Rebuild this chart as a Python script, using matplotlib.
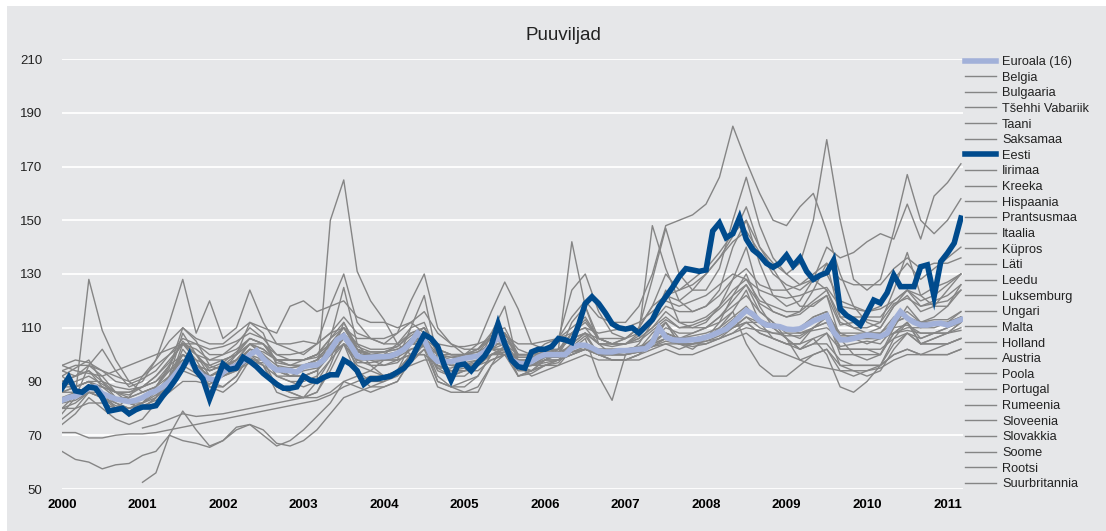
import numpy as np
import matplotlib
matplotlib.use("Agg")
import matplotlib.pyplot as plt
from matplotlib.patches import Rectangle

plt.rcParams["font.family"] = ["Liberation Sans", "DejaVu Sans"]

# monthly index values, Jan 2000 .. Mar 2011
eesti = [
    87.5, 91.5, 86.5, 86, 88, 87.5, 84, 79, 79.5, 80, 78, 79.5,
    80.5, 80.5, 81, 84.5, 87.5, 91, 95, 100, 94, 91, 83.5, 90,
    96.5, 94.5, 95, 99, 97.5, 95.5, 93, 91, 89, 87.5, 87.5, 88,
    92, 90.5, 90, 91.5, 92.5, 92.5, 98, 96.5, 94, 89, 91, 91,
    91.5, 92, 93.5, 95, 98, 103, 107.5, 106, 103, 96, 90.5, 96,
    96.5, 94, 97, 99.5, 103.5, 111.5, 104, 98, 95.5, 95, 101, 102,
    102, 103, 106, 105.5, 104.5, 111, 119, 121.5, 119, 115.5, 111.5, 110,
    109.5, 110, 108, 110.5, 113, 118, 121.5, 125, 129, 132, 131.5, 131,
    131.5, 146, 149, 143.5, 145, 151, 143, 139, 137, 134, 132.5, 134,
    137, 133, 136, 131, 128, 129.5, 130.5, 135, 117, 114.5, 113, 111,
    115.5, 120.3, 119.2, 123, 129.6, 125.3, 125.3, 125.3, 132.7, 133.4, 121.6, 134.6,
    137.8, 141.5, 150.8,
]
euroala = [
    83, 84, 84.5, 86, 87.5, 88, 85.5, 84.5, 83.5, 83, 82.5, 83,
    84, 85.5, 86.5, 88, 90, 93, 96, 98, 94.5, 92, 91, 90.5,
    93.5, 95, 96, 97.5, 100, 101.5, 98.5, 96, 94.3, 94.3, 94, 93.5,
    95.5, 96, 96.2, 98, 101.5, 105.5, 107, 103.5, 99.5, 98.8, 99, 99.2,
    99.2, 99.5, 100.5, 102, 104.5, 108, 105.5, 100, 97.5, 97.4, 97.4, 98,
    98.6, 99, 99.5, 101, 103.5, 106.5, 104, 98, 96.8, 96.5, 97.5, 99,
    100, 100, 100, 100, 102.5, 103.5, 103.5, 102.5, 101.2, 101, 101, 101.5,
    101.5, 101.7, 102, 102.2, 104.5, 110, 106.5, 105.5, 105.3, 105.3, 105.5, 105.8,
    106.5, 107.3, 108.5, 109.5, 111.7, 114, 116.5, 115, 112.5, 111, 110.7, 110.4,
    109.5, 109.3, 109.6, 111, 112.5, 113.5, 114.5, 108.5, 105.5, 105.5, 106, 106.7,
    107.3, 107, 106.7, 108, 112.5, 116, 113.6, 112, 111, 111, 111.5, 111.7,
    111, 112, 113,
]

# other countries, every second month (Jan, Mar, May, ...), Jan 2000 .. Mar 2011
belgia = [88, 90, 92, 89, 86, 85, 88, 92, 97, 104, 100, 95, 97, 101, 106, 104, 97, 96,
          98, 100, 106, 112, 103, 101, 101, 103, 107, 110, 100, 99, 100, 102, 107, 108, 99, 99,
          101, 102, 106, 108, 104, 103, 104, 105, 109, 113, 110, 111, 113, 117, 122, 126, 119, 116,
          114, 115, 119, 122, 111, 112, 113, 112, 119, 121, 118, 119, 120, 124]
bulgaaria = [64, 61, 60, 57.5, 59, 59.5, 62.5, 64, 70, 68, 67, 65.5, 68, 73, 74, 72, 67, 66,
             68, 72, 78, 84, 86, 88, 90, 92, 97, 102, 95, 92, 94, 96, 104, 108, 98, 96,
             99, 101, 108, 113, 106, 104, 104, 107, 112, 122, 124, 128, 132, 138, 145, 150, 140, 134,
             130, 126, 128, 124, 112, 110, 108, 110, 118, 122, 116, 118, 124, 130]
tsehhi = [92, 95, 98, 90, 84, 82, 80, 84, 92, 108, 100, 92, 95, 98, 104, 100, 92, 90,
          88, 90, 98, 112, 102, 96, 92, 94, 100, 104, 90, 88, 88, 92, 100, 103, 92, 93,
          96, 97, 103, 107, 100, 98, 98, 100, 104, 112, 104, 104, 106, 110, 116, 124, 112, 106,
          104, 104, 110, 114, 100, 100, 100, 100, 108, 112, 104, 106, 108, 112]
taani = [96, 94, 93, 92, 94, 96, 98, 100, 102, 104, 104, 102, 103, 105, 108, 106, 104, 104,
         105, 104, 108, 110, 106, 106, 106, 108, 112, 108, 104, 103, 103, 104, 106, 107, 104, 104,
         105, 106, 108, 110, 108, 109, 110, 112, 116, 120, 118, 120, 122, 126, 130, 128, 124, 122,
         121, 122, 124, 125, 118, 117, 116, 117, 120, 124, 122, 125, 127, 130]
saksamaa = [82, 83, 86, 84, 81, 80, 82, 85, 89, 96, 93, 89, 92, 95, 99, 96, 92, 92,
            94, 95, 100, 106, 97, 97, 98, 99, 102, 103, 95, 95, 97, 98, 102, 102, 95, 96,
            99, 99, 101, 102, 100, 100, 100, 101, 103, 105, 104, 104, 105, 107, 110, 114, 110, 108,
            107, 107, 110, 112, 103, 104, 105, 104, 110, 111, 108, 108, 108, 110]
iirimaa = [90, 92, 96, 94, 90, 89, 91, 94, 100, 104, 100, 98, 100, 104, 110, 106, 100, 100,
           101, 104, 108, 114, 108, 106, 104, 104, 108, 110, 102, 100, 100, 100, 104, 106, 100, 100,
           100, 100, 103, 104, 101, 100, 101, 102, 104, 106, 104, 104, 104, 106, 110, 112, 108, 106,
           104, 102, 104, 104, 98, 96, 96, 96, 100, 102, 100, 100, 100, 102]
kreeka = [80, 85, 128, 109, 98, 90, 86, 88, 95, 110, 105, 96, 94, 100, 112, 108, 96, 92,
          92, 94, 106, 125, 104, 98, 96, 98, 110, 122, 98, 92, 92, 96, 108, 118, 96, 94,
          98, 100, 112, 118, 104, 100, 100, 104, 112, 124, 112, 110, 112, 118, 128, 140, 122, 116,
          114, 116, 124, 134, 114, 110, 110, 112, 124, 138, 122, 118, 118, 124]
hispaania = [86, 88, 90, 86, 82, 80, 82, 88, 96, 105, 100, 94, 96, 100, 106, 104, 98, 96,
             96, 98, 104, 110, 102, 100, 100, 104, 110, 112, 100, 98, 100, 102, 108, 110, 100, 100,
             104, 106, 110, 114, 106, 104, 104, 106, 110, 114, 110, 110, 110, 114, 118, 122, 116, 112,
             108, 106, 110, 114, 102, 102, 102, 100, 108, 112, 104, 104, 104, 106]
prantsusmaa = [84, 86, 88, 86, 84, 84, 86, 88, 92, 98, 96, 92, 94, 97, 102, 100, 96, 95,
               96, 98, 104, 108, 100, 100, 100, 101, 106, 106, 98, 98, 99, 100, 104, 104, 98, 98,
               100, 100, 103, 104, 101, 101, 101, 102, 105, 108, 106, 106, 107, 109, 113, 117, 113, 111,
               110, 110, 114, 116, 107, 107, 108, 108, 114, 116, 112, 113, 113, 116]
itaalia = [80, 80, 82, 82, 80, 80, 81, 83, 86, 90, 90, 89, 92, 94, 97, 97, 95, 95,
           96, 97, 100, 104, 101, 100, 101, 102, 104, 104, 100, 99, 99, 100, 102, 102, 99, 99,
           100, 100, 101, 102, 101, 101, 101, 102, 103, 104, 104, 104, 105, 106, 108, 110, 109, 108,
           108, 108, 109, 110, 106, 106, 106, 106, 108, 109, 108, 108, 108, 109]
kupros = [78, 84, 96, 102, 94, 88, 90, 98, 112, 128, 108, 120, 106, 110, 124, 112, 104, 102,
          100, 104, 118, 130, 112, 106, 104, 108, 120, 130, 110, 104, 100, 104, 116, 127, 117, 104,
          102, 106, 124, 130, 116, 108, 106, 110, 128, 147, 130, 124, 124, 132, 150, 166, 148, 136,
          130, 134, 150, 180, 150, 128, 124, 128, 146, 167, 150, 145, 150, 158]
lati = [92, 88, 90, 86, 80, 78, 80, 84, 92, 100, 96, 92, 94, 98, 104, 100, 92, 90,
        90, 92, 98, 104, 96, 94, 92, 94, 100, 104, 94, 92, 94, 96, 102, 104, 96, 98,
        102, 106, 114, 120, 114, 112, 112, 118, 130, 148, 150, 152, 156, 166, 185, 172, 160, 150,
        148, 155, 160, 146, 130, 118, 112, 110, 118, 124, 120, 122, 126, 130]
leedu = [94, 92, 94, 88, 84, 82, 80, 82, 90, 104, 98, 90, 88, 92, 100, 96, 86, 84,
         84, 90, 150, 165, 131, 120, 113, 104, 100, 100, 88, 86, 86, 88, 96, 100, 92, 94,
         98, 100, 108, 112, 106, 104, 106, 110, 118, 130, 124, 126, 130, 136, 144, 155, 140, 132,
         124, 118, 118, 122, 106, 100, 98, 100, 110, 118, 112, 114, 118, 126]
luksemburg = [86, 88, 90, 90, 88, 87, 88, 90, 94, 98, 96, 94, 96, 98, 102, 101, 98, 98,
              98, 99, 103, 106, 101, 101, 101, 102, 105, 106, 100, 100, 100, 101, 104, 104, 100, 100,
              101, 101, 103, 104, 102, 102, 102, 103, 105, 108, 106, 106, 107, 108, 112, 116, 112, 110,
              110, 110, 113, 115, 108, 108, 108, 108, 112, 114, 112, 112, 112, 114]
ungari = [76, 80, 86, 84, 80, 84, 92, 98, 105, 110, 106, 104, 104, 108, 112, 110, 108, 118,
          120, 116, 118, 120, 114, 112, 112, 110, 112, 116, 108, 104, 102, 102, 106, 108, 102, 100,
          100, 102, 108, 110, 104, 104, 106, 110, 118, 122, 120, 124, 130, 136, 142, 146, 138, 130,
          126, 124, 128, 130, 120, 118, 116, 118, 128, 134, 128, 132, 136, 140]
malta = [None, None, None, None, None, None, 72.7, 74, 76, 78, 77, 77.5, 78, 79, 80, 81, 82, 83,
         84, 84, 86, 90, 92, 94, 98, 100, 104, 106, 102, 100, 100, 100, 102, 100, 98, 96,
         96, 98, 100, 102, 100, 98, 98, 100, 102, 104, 102, 104, 106, 108, 110, 114, 112, 110,
         110, 108, 110, 112, 108, 106, 104, 106, 108, 110, 110, 112, 112, 114]
holland = [96, 98, 97, 94, 92, 90, 92, 96, 100, 106, 104, 100, 100, 102, 106, 104, 100, 98,
           98, 100, 104, 110, 102, 100, 100, 100, 104, 104, 98, 96, 96, 97, 100, 101, 96, 96,
           97, 98, 100, 102, 100, 100, 100, 101, 103, 106, 104, 103, 104, 106, 108, 112, 108, 106,
           104, 104, 106, 108, 102, 102, 102, 102, 106, 108, 104, 104, 104, 106]
austria = [80, 82, 86, 84, 82, 80, 82, 86, 92, 100, 96, 92, 94, 96, 102, 100, 94, 92,
           92, 94, 100, 106, 98, 96, 96, 97, 102, 104, 96, 94, 95, 96, 100, 101, 95, 96,
           98, 98, 101, 103, 100, 100, 100, 101, 104, 108, 106, 107, 108, 110, 114, 118, 112, 110,
           110, 110, 114, 116, 106, 106, 106, 106, 112, 114, 110, 110, 112, 116]
poola = [74, 78, 84, 80, 76, 74, 76, 82, 90, 102, 96, 88, 86, 90, 98, 96, 88, 86,
         84, 86, 96, 108, 94, 90, 90, 94, 104, 108, 96, 94, 94, 96, 102, 106, 96, 96,
         98, 102, 142, 118, 106, 104, 104, 108, 148, 132, 120, 116, 118, 124, 140, 150, 134, 122,
         118, 120, 128, 140, 136, 138, 142, 145, 143, 156, 143, 159, 164, 171]
portugal = [90, 92, 94, 90, 86, 84, 86, 88, 94, 100, 96, 94, 96, 98, 104, 104, 98, 98,
            98, 100, 104, 108, 102, 100, 98, 98, 100, 100, 96, 94, 94, 94, 98, 100, 94, 94,
            96, 96, 98, 100, 98, 98, 98, 98, 100, 102, 100, 100, 102, 104, 106, 108, 104, 102,
            100, 98, 100, 102, 96, 96, 96, 96, 100, 102, 100, 100, 100, 102]
rumeenia = [None, None, None, None, None, None, 52.5, 56, 70, 79, 72, 66, 68, 72, 74, 70, 66, 68,
            72, 77, 82, 90, 88, 86, 88, 90, 98, 104, 92, 88, 86, 86, 96, 104, 96, 92,
            94, 96, 102, 106, 92, 83, 100, 102, 108, 112, 104, 102, 106, 112, 122, 130, 118, 110,
            106, 102, 106, 100, 88, 86, 90, 96, 106, 112, 106, 108, 110, 114]
sloveenia = [86, 86, 88, 88, 86, 86, 88, 90, 96, 100, 98, 96, 98, 100, 104, 102, 98, 98,
             98, 100, 106, 110, 104, 102, 102, 103, 108, 110, 102, 100, 100, 101, 106, 108, 100, 100,
             102, 102, 106, 108, 104, 104, 104, 106, 110, 116, 112, 112, 114, 118, 124, 128, 120, 118,
             116, 116, 120, 124, 114, 114, 114, 114, 120, 124, 118, 120, 122, 126]
slovakkia = [94, 96, 96, 92, 86, 82, 80, 84, 90, 100, 96, 88, 88, 92, 100, 98, 88, 86,
             84, 86, 94, 104, 92, 88, 88, 90, 98, 102, 90, 88, 90, 92, 100, 102, 92, 94,
             96, 98, 104, 108, 100, 98, 98, 100, 106, 112, 106, 108, 110, 114, 120, 126, 116, 112,
             106, 102, 104, 108, 96, 94, 92, 94, 102, 108, 104, 106, 108, 112]
soome = [84, 84, 86, 86, 84, 82, 82, 84, 88, 94, 92, 90, 92, 94, 98, 98, 94, 92,
         92, 94, 100, 104, 98, 98, 98, 98, 100, 104, 98, 96, 96, 98, 100, 102, 98, 98,
         100, 100, 104, 108, 106, 106, 106, 108, 112, 118, 116, 116, 118, 122, 128, 132, 126, 124,
         124, 126, 130, 134, 128, 126, 126, 126, 132, 136, 132, 134, 134, 136]
rootsi = [88, 88, 90, 88, 86, 86, 88, 92, 98, 104, 102, 98, 98, 100, 104, 102, 98, 96,
          96, 98, 102, 108, 102, 100, 100, 100, 104, 104, 98, 96, 96, 96, 100, 100, 96, 96,
          98, 98, 100, 102, 100, 100, 100, 102, 106, 110, 108, 108, 110, 112, 116, 104, 96, 92,
          92, 96, 100, 102, 94, 92, 94, 96, 104, 108, 106, 108, 110, 112]
suurbritannia = [71, 71, 69, 69, 70, 70.5, 70.5, 71, 72, 73, 74, 75, 76, 77, 78, 79, 80, 81,
                 82, 83, 85, 88, 90, 92, 92, 94, 96, 98, 98, 96, 96, 96, 98, 100, 100, 100,
                 100, 100, 101, 102, 102, 102, 102, 103, 104, 106, 106, 106, 107, 108, 110, 112, 112, 110,
                 106, 98, 96, 95, 94, 94, 94, 95, 98, 100, 100, 102, 104, 106]

others = [
    ("Belgia", belgia), ("Bulgaaria", bulgaaria), ("Tšehhi Vabariik", tsehhi),
    ("Taani", taani), ("Saksamaa", saksamaa), ("Eesti", None),
    ("Iirimaa", iirimaa), ("Kreeka", kreeka), ("Hispaania", hispaania),
    ("Prantsusmaa", prantsusmaa), ("Itaalia", itaalia), ("Küpros", kupros),
    ("Läti", lati), ("Leedu", leedu), ("Luksemburg", luksemburg),
    ("Ungari", ungari), ("Malta", malta), ("Holland", holland),
    ("Austria", austria), ("Poola", poola), ("Portugal", portugal),
    ("Rumeenia", rumeenia), ("Sloveenia", sloveenia), ("Slovakkia", slovakkia),
    ("Soome", soome), ("Rootsi", rootsi), ("Suurbritannia", suurbritannia),
]

BG = "#e6e7e9"
GREY = "#858585"
EURO = "#a2b1d9"
EST = "#004b8d"

x_month = 2000 + np.arange(len(eesti)) / 12
x_bimonth = 2000 + np.arange(0, len(eesti), 2) / 12

fig = plt.figure(figsize=(11.06, 5.31), dpi=100, facecolor="white")
fig.patches.append(Rectangle((7 / 1106, 0), 1, 1 - 6 / 531, transform=fig.transFigure,
                             facecolor=BG, edgecolor="none", zorder=-10))
ax = fig.add_axes([62 / 1106, 1 - 489 / 531, (963 - 62) / 1106, (489 - 59) / 531])
ax.set_facecolor(BG)

handles = {}
for name, vals in others:
    if vals is None:
        continue
    y = np.array([np.nan if v is None else v for v in vals], dtype=float)
    (ln,) = ax.plot(x_bimonth, y, color=GREY, lw=1.0, zorder=2)
    handles[name] = ln
(h_euro,) = ax.plot(x_month, euroala, color=EURO, lw=4, zorder=3, solid_joinstyle="miter")
(h_est,) = ax.plot(x_month, eesti, color=EST, lw=4, zorder=4, solid_joinstyle="miter")
handles["Euroala (16)"] = h_euro
handles["Eesti"] = h_est

ax.set_xlim(2000, 2000 + (963 - 62) / 80.5)
ax.set_ylim(50, 210)
ax.set_yticks(range(50, 211, 20))
ax.set_xticks(range(2000, 2012))
ax.grid(axis="y", color="white", lw=1.3, zorder=1)
ax.set_axisbelow(True)
for s in ax.spines.values():
    s.set_visible(False)
ax.tick_params(length=0)
ax.tick_params(axis="y", pad=14, labelsize=9.5, labelcolor="#222222")
ax.tick_params(axis="x", pad=7, labelsize=9.5)
for lab in ax.get_xticklabels():
    lab.set_fontweight("bold")

fig.text(0.509, 1 - 35 / 531, "Puuviljad", ha="center", va="center", fontsize=13.5,
         color="#222222")

order = ["Euroala (16)"] + [n for n, _ in others]
leg = fig.legend([handles[n] for n in order], order, loc="upper left",
                 bbox_to_anchor=(965 / 1106, 1 - 56 / 531), frameon=False,
                 fontsize=9.2, handlelength=2.4, handletextpad=0.5,
                 labelspacing=0.285, borderaxespad=0, borderpad=0)
for t in leg.get_texts():
    t.set_color("#222222")

fig.savefig("out.png", dpi=100, facecolor=fig.get_facecolor())
